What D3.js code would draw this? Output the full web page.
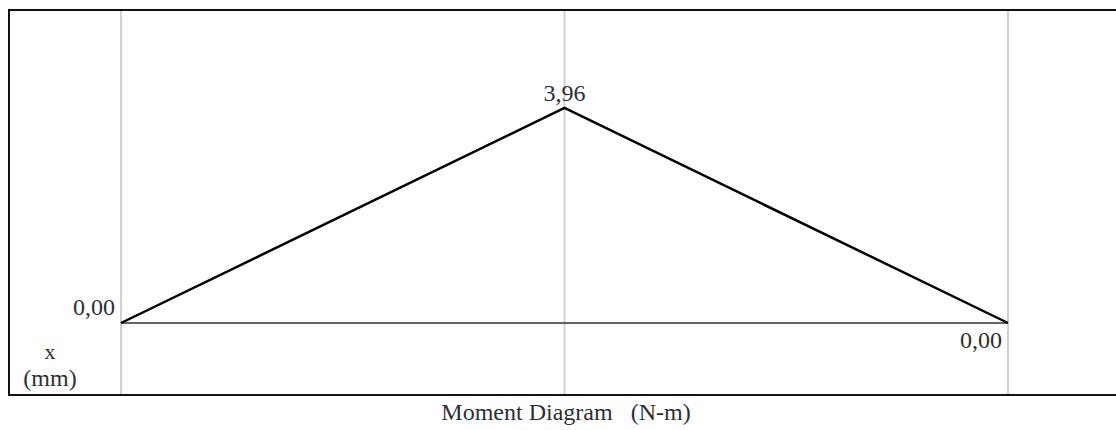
<!DOCTYPE html>
<html>
<head>
<meta charset="utf-8">
<script src="https://cdn.jsdelivr.net/npm/d3@7"></script>
<style>
  body { margin: 0; background: #fff; }
  text { font-family: "Liberation Serif", "DejaVu Serif", serif; fill: #2b2f38; }
</style>
</head>
<body>
<div id="chart"></div>
<script>
var width = 1116;
var height = 430;

// stations along the beam and the moment at each one
var stations = [0, 1, 2];
var moments = [0, 3.96, 0];
var momentLabels = ["0,00", "3,96", "0,00"];
var title = "Moment Diagram   (N-m)";

var frame = {left: 9, top: 10, bottom: 395};

var svg = d3.select("#chart")
  .append("svg")
  .attr("width", width)
  .attr("height", height);

var x = d3.scaleLinear().domain([0, 2]).range([121, 1008]);
var y = d3.scaleLinear().domain([0, 3.96]).range([323, 108]);

// vertical grid lines at each station
svg.selectAll(".grid")
  .data(stations)
  .enter()
  .append("line")
  .attr("class", "grid")
  .attr("x1", function(d) { return x(d); })
  .attr("x2", function(d) { return x(d); })
  .attr("y1", frame.top)
  .attr("y2", frame.bottom)
  .attr("stroke", "#d0d0d0")
  .attr("stroke-width", 2);

// frame: left, top, bottom (right side runs off the page)
svg.append("path")
  .attr("d", "M" + width + "," + frame.top + "H" + frame.left + "V" + frame.bottom + "H" + width)
  .attr("fill", "none")
  .attr("stroke", "#111")
  .attr("stroke-width", 2);

// zero line
svg.append("line")
  .attr("x1", x(0))
  .attr("x2", x(2))
  .attr("y1", y(0))
  .attr("y2", y(0))
  .attr("stroke", "#333")
  .attr("stroke-width", 1.5);

var line = d3.line()
  .x(function(d, i) { return x(stations[i]); })
  .y(function(d) { return y(d); });

svg.append("path")
  .datum(moments)
  .attr("d", line)
  .attr("fill", "none")
  .attr("stroke", "#000")
  .attr("stroke-width", 2.5);

// value labels
var anchors = ["end", "middle", "end"];
var dxs = [-6, 0, -6];
var dys = [-8, -7, 25];
svg.selectAll(".val")
  .data(moments)
  .enter()
  .append("text")
  .attr("class", "val")
  .attr("x", function(d, i) { return x(stations[i]) + dxs[i]; })
  .attr("y", function(d, i) { return y(d) + dys[i]; })
  .attr("text-anchor", function(d, i) { return anchors[i]; })
  .style("font-size", "24px")
  .text(function(d, i) { return momentLabels[i]; });

svg.append("text")
  .attr("x", 50).attr("y", 359)
  .attr("text-anchor", "middle")
  .style("font-size", "22px")
  .text("x");

svg.append("text")
  .attr("x", 50).attr("y", 386)
  .attr("text-anchor", "middle")
  .style("font-size", "24px")
  .text("(mm)");

svg.append("text")
  .attr("x", 566).attr("y", 420)
  .attr("text-anchor", "middle")
  .style("font-size", "24px")
  .style("white-space", "pre")
  .text(title);
</script>
</body>
</html>
